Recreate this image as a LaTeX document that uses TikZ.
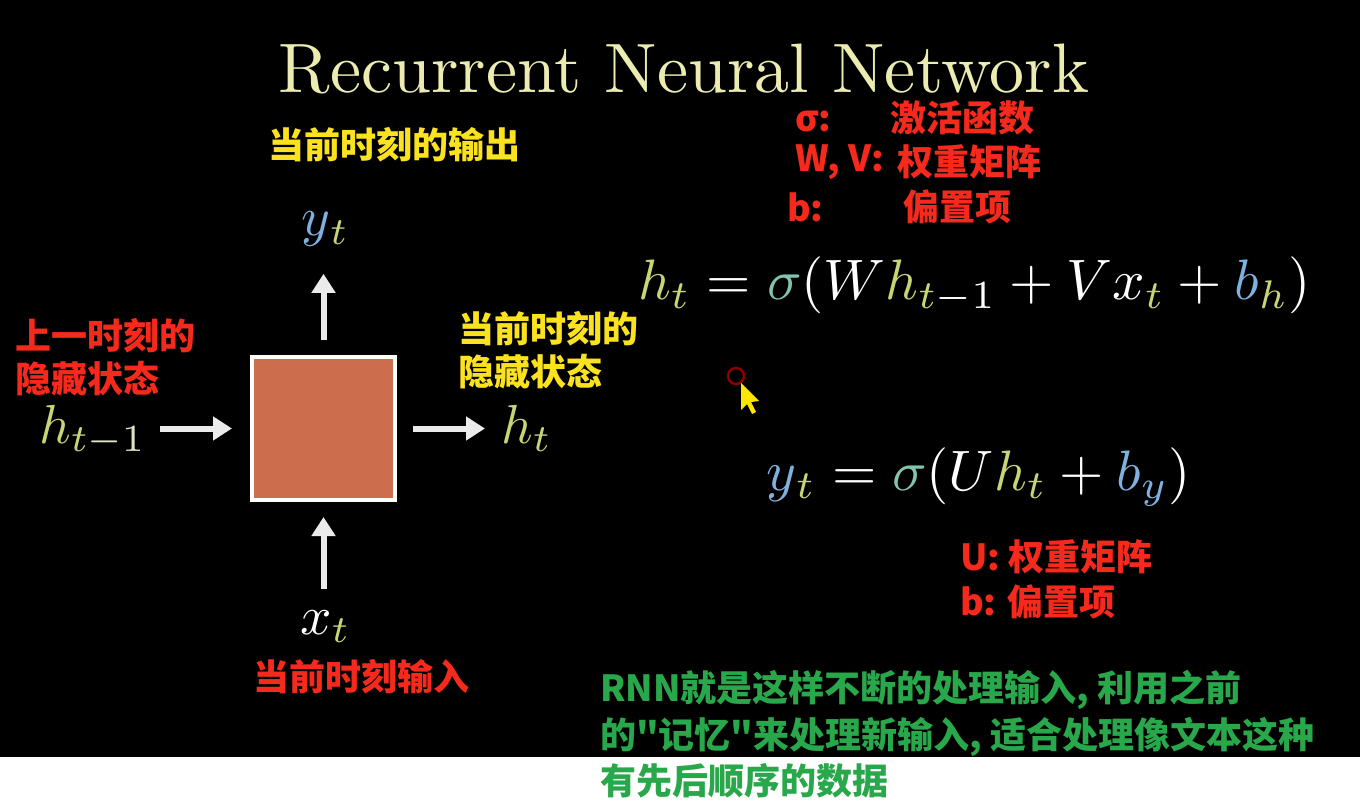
\documentclass[tikz,border=0pt]{standalone}
\usepackage{fontspec}
\usetikzlibrary{arrows.meta}
\newfontfamily\cjk{Noto Sans CJK SC}
\definecolor{titlecol}{RGB}{236,236,176}
\definecolor{hcol}{RGB}{200,212,118}
\definecolor{scol}{RGB}{130,196,176}
\definecolor{bcol}{RGB}{128,176,222}
\definecolor{boxcol}{RGB}{204,110,78}
\definecolor{redtxt}{RGB}{246,42,28}
\definecolor{yeltxt}{RGB}{250,226,30}
\definecolor{grntxt}{RGB}{40,168,74}
\definecolor{onecol}{RGB}{220,228,196}
\newcommand\cH[1]{{\color{hcol}#1}}
\newcommand\cS[1]{{\color{scol}#1}}
\newcommand\cB[1]{{\color{bcol}#1}}
\newcommand\cO[1]{{\color{onecol}#1}}
\tikzset{
  mathlbl/.style={inner sep=0pt, text=white, font=\fontsize{10}{12}\selectfont, scale=5.5, transform shape},
  eqn/.style={inner sep=0pt, text=white, font=\fontsize{10}{12}\selectfont, anchor=base west, scale=5.7, transform shape},
  cjklbl/.style={inner sep=0pt, font=\cjk\bfseries\fontsize{36}{45}\selectfont, align=left},
  redlbl/.style={cjklbl, text=redtxt},
  yellbl/.style={cjklbl, text=yeltxt},
  grnlbl/.style={cjklbl, text=grntxt, anchor=west},
  tight/.style={text height=27pt, text depth=6pt},
  arr/.style={draw=white!92!black, line width=6pt, -{Triangle[width=23pt,length=19pt]}},
  cellbox/.style={draw=white, line width=4pt, fill=boxcol, minimum width=143pt, minimum height=143pt, inner sep=0pt}
}
\begin{document}
\begin{tikzpicture}[x=1pt,y=-1pt]
\useasboundingbox (0,0) rectangle (1360,810);
\fill[black] (0,0) rectangle (1360,757);
\fill[white] (0,757) rectangle (1360,810);

% title
\node[anchor=base, inner sep=0pt, text=titlecol, font=\fontsize{10}{12}\selectfont, scale=7, transform shape] (title) at (684,93) {Recurrent Neural Network};

% cell
\node[cellbox] (box) at (323.5,428.5) {};
\node[mathlbl, anchor=base west] (hprev) at (38,443) {$\cH{h}_{\cH{t}\cO{-1}}$};
\node[mathlbl, anchor=base west] (hnext) at (500,443) {$\cH{h}_{\cH{t}}$};
\node[mathlbl, anchor=base west] (yout) at (300,236) {$\cB{y}_{\cH{t}}$};
\node[mathlbl, anchor=base west] (xin) at (299,634) {$x_{\cH{t}}$};

\draw[arr, shorten <=12pt, shorten >=18pt] (hprev.east |- box.west) -- (box.west);
\draw[arr, shorten <=16pt, shorten >=15pt] (box.east) -- (hnext.west |- box.east);
\draw[arr, shorten <=15pt, shorten >=26pt] (box.north) -- (yout.south -| box.north);
\draw[arr, shorten <=20pt, shorten >=15pt] (xin.north -| box.south) -- (box.south);

% labels around cell
\node[yellbl, anchor=west] (outlbl) at (268,145) {当前时刻的输出};
\node[redlbl, anchor=north west] (prevlbl) at (15,318) {上一时刻的\\[-2pt]隐藏状态};
\node[yellbl, anchor=north west] (nextlbl) at (458,311) {当前时刻的\\[-2pt]隐藏状态};
\node[redlbl, anchor=west] (inlbl) at (253,677) {当前时刻输入};

% legend top right
\node[redlbl, tight, anchor=west] (s1) at (795,121) {σ:};
\node[redlbl, tight, anchor=west] (s2) at (890,121) {激活函数};
\node[redlbl, anchor=west] (w1) at (795,162) {W, V:};
\node[redlbl, anchor=west] (w2) at (897,162) {权重矩阵};
\node[redlbl, anchor=west] (b1) at (787,207) {b:};
\node[redlbl, anchor=west] (b2) at (903,207) {偏置项};

% equations
\node[eqn] (eq1) at (637,300) {$\cH{h}_{\cH{t}} = \cS{\sigma}(W\cH{h}_{\cH{t}-1} + Vx_{\cH{t}} + \cB{b}_{\cH{h}})$};
\node[eqn] (eq2) at (765,490) {$\cB{y}_{\cH{t}} = \cS{\sigma}(U\cH{h}_{\cH{t}} + \cB{b}_{\cB{y}})$};

% legend bottom right
\node[redlbl, anchor=west] (u1) at (960,557) {U: 权重矩阵};
\node[redlbl, anchor=west] (u2) at (960,602) {b: 偏置项};

% green summary
\node[grnlbl] (g1) at (600,690) {RNN就是这样不断的处理输入, 利用之前};
\node[grnlbl] (g2) at (600,737) {的"记忆"来处理新输入, 适合处理像文本这种};
\node[grnlbl] (g3) at (600,781) {有先后顺序的数据};

% mouse cursor
\draw[draw=red!55!black, line width=2.5pt] (736,376) circle (8);
\fill[yellow!90!orange] (741,383) -- (741,410) -- (747,404) -- (752,414) -- (756,412) -- (751,402) -- (759,401) -- cycle;
\end{tikzpicture}
\end{document}
